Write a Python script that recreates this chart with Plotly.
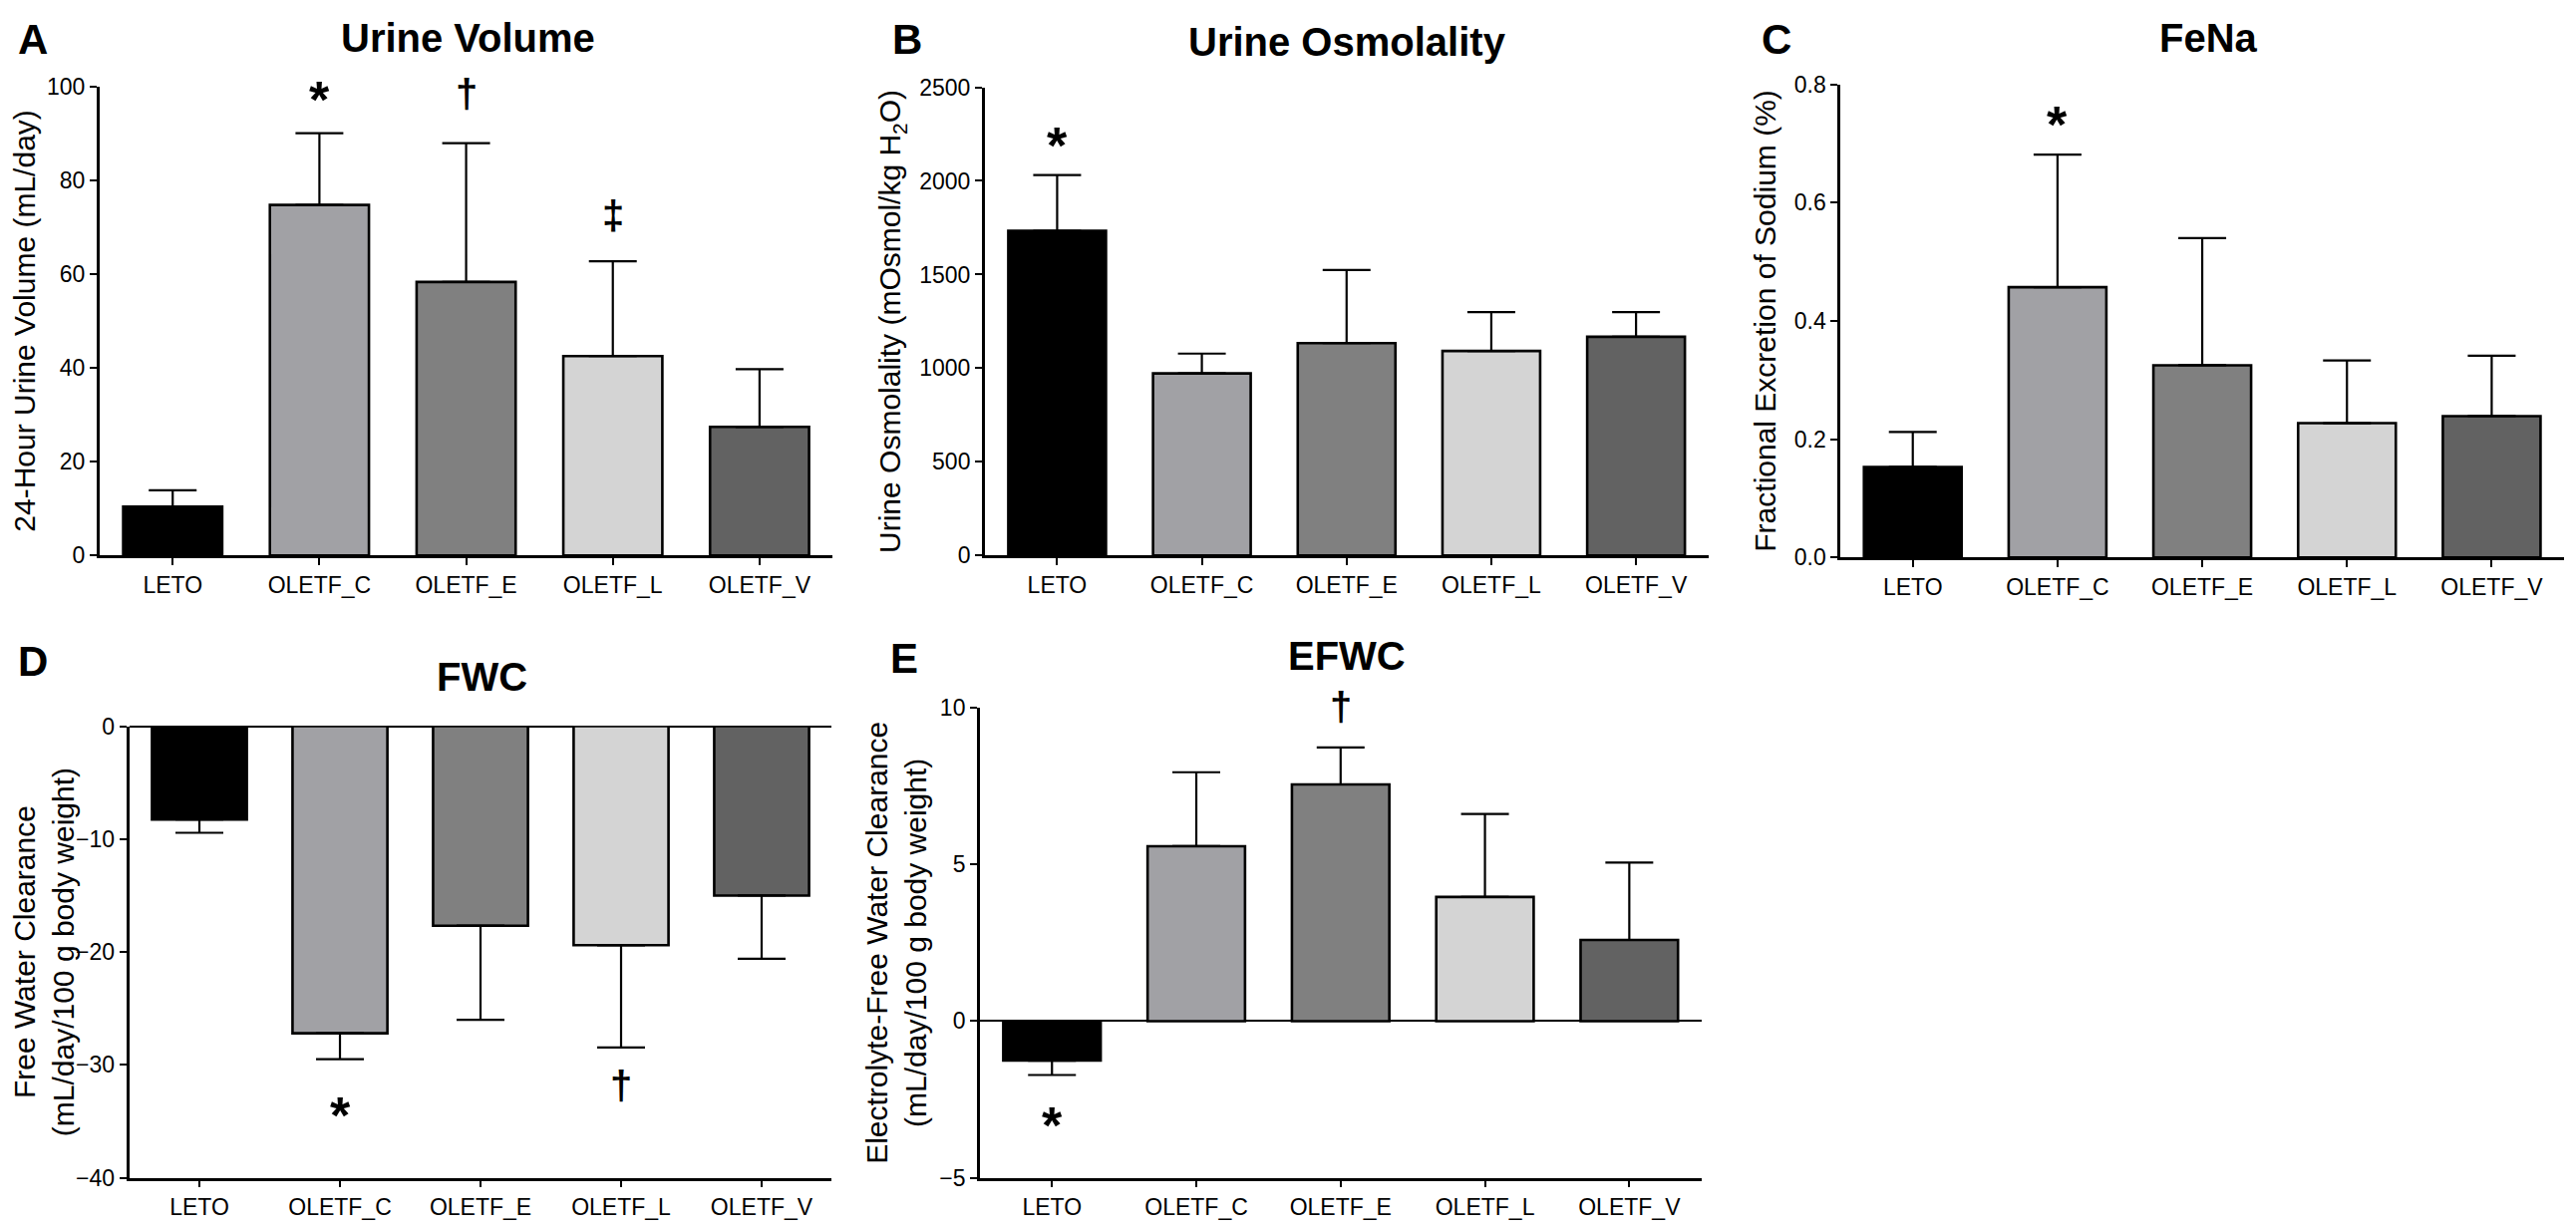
import plotly.graph_objects as go

# groups shared by every panel
groups = ['LETO', 'OLETF_C', 'OLETF_E', 'OLETF_L', 'OLETF_V']
bar_colors = ['#000000', '#a1a1a5', '#808080', '#d4d4d4', '#626262']

# A - 24 h urine volume
volume_mean = [10.4, 74.7, 58.3, 42.5, 27.4]
volume_sem = [3.5, 15.3, 29.6, 20.2, 12.3]
volume_sig_x = ['OLETF_C', 'OLETF_E', 'OLETF_L']
volume_sig_y = [99.9, 97.7, 71.8]
volume_sig_txt = ['*', '†', '‡']

# B - urine osmolality
osmo_mean = [1733, 972, 1134, 1092, 1168]
osmo_sem = [298, 106, 390, 208, 132]
osmo_sig_x = ['LETO']
osmo_sig_y = [2257]
osmo_sig_txt = ['*']

# C - FeNa
fena_mean = [0.153, 0.457, 0.325, 0.227, 0.239]
fena_sem = [0.059, 0.224, 0.215, 0.106, 0.102]
fena_sig_x = ['OLETF_C']
fena_sig_y = [0.754]
fena_sig_txt = ['*']

# D - free water clearance (error drawn downward)
fwc_mean = [-8.26, -27.2, -17.67, -19.4, -15.0]
fwc_sem = [1.18, 2.3, 8.33, 9.06, 5.6]
fwc_sig_x = ['OLETF_C', 'OLETF_L']
fwc_sig_y = [-33.3, -32.1]
fwc_sig_txt = ['*', '†']

# E - electrolyte free water clearance
efwc_mean = [-1.26, 5.58, 7.55, 3.96, 2.59]
efwc_sem = [0.46, 2.36, 1.18, 2.65, 2.47]
efwc_sig_x = ['LETO', 'OLETF_E']
efwc_sig_y = [-2.91, 9.95]
efwc_sig_txt = ['*', '†']

# page is 2584x1233, the body keeps its 8px margin so the figure is a bit smaller
W, H = 2584, 1233
OFF = 8
FW, FH = W - 2 * OFF, H - 2 * OFF

TICK_FONT = dict(family='Liberation Sans, Arial, sans-serif', size=23, color='black')
TITLE_FONT = dict(family='Liberation Sans, Arial, sans-serif', size=40, color='black', weight='bold')
AXT_FONT = dict(family='Liberation Sans, Arial, sans-serif', size=30, color='black')
MARK_FONT = 'Liberation Sans, Arial, sans-serif'


def fx(px):
    return (px - OFF) / FW


def fy(py):
    return 1 - (py - OFF) / FH


panels = [
    dict(mean=volume_mean, sem=volume_sem, sig=(volume_sig_x, volume_sig_y, volume_sig_txt),
         xpx=(89, 828), ypx=(75, 556), yr=[0, 100], dt=20, fmt='',
         ytitle='24-Hour Urine Volume (mL/day)', title='Urine Volume',
         letter='A', lpos=(5, 27), tpos=(460, 25), so=10),
    dict(mean=osmo_mean, sem=osmo_sem, sig=(osmo_sig_x, osmo_sig_y, osmo_sig_txt),
         xpx=(981, 1710), ypx=(76, 556), yr=[0, 2500], dt=500, fmt='',
         ytitle='Urine Osmolality (mOsmol/kg H<sub>2</sub>O)', title='Urine Osmolality',
         letter='B', lpos=(886, 27), tpos=(1346, 29), so=10),
    dict(mean=fena_mean, sem=fena_sem, sig=(fena_sig_x, fena_sig_y, fena_sig_txt),
         xpx=(1843, 2572), ypx=(73, 558), yr=[0, 0.8], dt=0.2, fmt='.1f',
         ytitle='Fractional Excretion of Sodium (%)', title='FeNa',
         letter='C', lpos=(1762, 27), tpos=(2214, 25), so=10),
    dict(mean=fwc_mean, sem=fwc_sem, sig=(fwc_sig_x, fwc_sig_y, fwc_sig_txt),
         xpx=(119, 827), ypx=(731, 1194), yr=[-40, 0], dt=10, fmt='',
         ytitle='Free Water Clearance<br>(mL/day/100 g body weight)', title='FWC',
         letter='D', lpos=(5, 665), tpos=(474, 680), so=8),
    dict(mean=efwc_mean, sem=efwc_sem, sig=(efwc_sig_x, efwc_sig_y, efwc_sig_txt),
         xpx=(976, 1703), ypx=(712, 1194), yr=[-5, 10], dt=5, fmt='',
         ytitle='Electrolyte-Free Water Clearance<br>(mL/day/100 g body weight)', title='EFWC',
         letter='E', lpos=(884, 661), tpos=(1346, 659), so=4),
]

fig = go.Figure()
annotations = []
layout = {}

for i, p in enumerate(panels, start=1):
    xa = 'x' if i == 1 else f'x{i}'
    ya = 'y' if i == 1 else f'y{i}'
    sfx = '' if i == 1 else str(i)
    up = [s if m >= 0 else 0 for m, s in zip(p['mean'], p['sem'])]
    down = [s if m < 0 else 0 for m, s in zip(p['mean'], p['sem'])]
    fig.add_trace(go.Bar(
        x=groups, y=p['mean'], xaxis=xa, yaxis=ya,
        marker=dict(color=bar_colors, line=dict(color='black', width=2.6)),
        error_y=dict(type='data', symmetric=False, array=up, arrayminus=down,
                     color='black', thickness=2.2, width=24),
        showlegend=False, hoverinfo='skip',
    ))
    has_neg = p['yr'][0] < 0
    layout['xaxis' + sfx] = dict(
        domain=[fx(p['xpx'][0]), fx(p['xpx'][1])], anchor=ya, range=[-0.5, 4.5],
        showline=True, linecolor='black', linewidth=2.6,
        ticks='outside', ticklen=7, tickwidth=2.4, tickcolor='black',
        tickfont=TICK_FONT, showgrid=False, zeroline=False, fixedrange=True,
    )
    layout['yaxis' + sfx] = dict(
        domain=[fy(p['ypx'][1]), fy(p['ypx'][0])], anchor=xa, range=p['yr'],
        dtick=p['dt'], tick0=0, tickformat=p['fmt'],
        showline=True, linecolor='black', linewidth=2.6,
        ticks='outside', ticklen=7, tickwidth=2.4, tickcolor='black',
        tickfont=TICK_FONT, showgrid=False, fixedrange=True,
        zeroline=has_neg, zerolinecolor='black', zerolinewidth=2.4,
        title=dict(text=p['ytitle'], font=AXT_FONT, standoff=p['so']),
    )

    # panel letter and title
    annotations.append(dict(
        text=p['letter'], x=fx(p['lpos'][0]), y=fy(p['lpos'][1]),
        xref='paper', yref='paper', xanchor='left', yanchor='middle', showarrow=False,
        font=dict(family=MARK_FONT, size=42, color='black', weight='bold'),
    ))
    annotations.append(dict(
        text=p['title'], x=fx(p['tpos'][0]), y=fy(p['tpos'][1]),
        xref='paper', yref='paper', xanchor='center', yanchor='middle', showarrow=False,
        font=TITLE_FONT,
    ))
    # significance marks, glyph centre placed on the value
    for sx, sy, st in zip(*p['sig']):
        big = st == '*'
        annotations.append(dict(
            text=st, x=sx, y=sy, xref=xa, yref=ya, showarrow=False,
            xanchor='center', yanchor='middle', yshift=-13 if big else 3,
            font=dict(family=MARK_FONT, size=52 if big else 40, color='black', weight='bold'),
        ))

fig.update_layout(
    **layout,
    annotations=annotations,
    width=FW, height=FH,
    margin=dict(l=0, r=0, t=0, b=0),
    plot_bgcolor='white', paper_bgcolor='white',
    bargap=0.325,
)

fig.write_html('out.html')
